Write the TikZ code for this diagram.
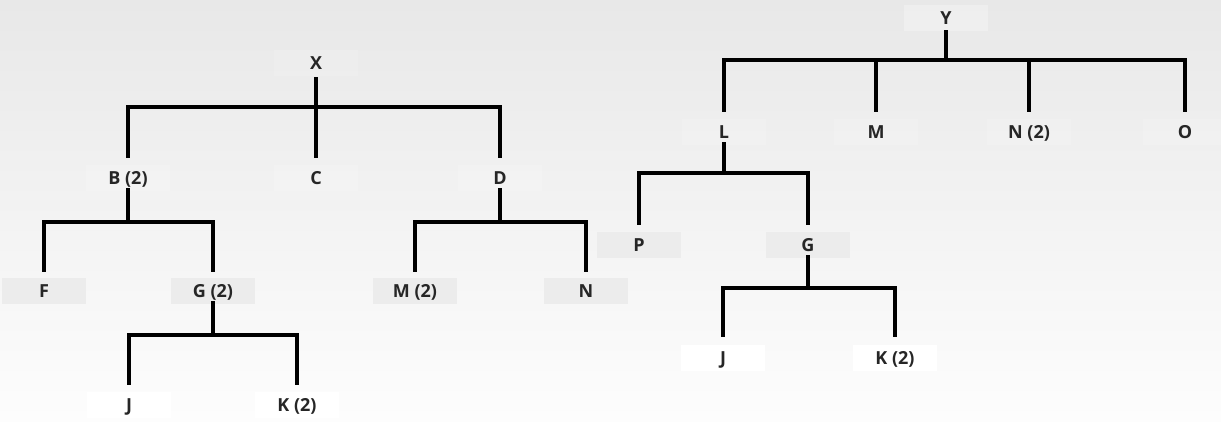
\documentclass[tikz,border=0pt]{standalone}
\usepackage{fontspec}
\setmainfont{Open Sans}
\definecolor{boxgray}{HTML}{ECECEC}
\definecolor{bgtop}{HTML}{E8E8E8}
\definecolor{bgmid}{HTML}{F3F3F3}
\definecolor{bgbot}{HTML}{FDFDFD}
\tikzset{
  lbl/.style={fill=boxgray, minimum width=84pt, minimum height=26pt, inner sep=0pt,
              text height=12.5pt, text depth=0pt,
              font=\fontsize{18}{21}\selectfont\bfseries, text=black!85},
  lblf/.style={lbl, fill=white, fill opacity=0.15, text opacity=1},
  lblw/.style={lbl, fill=white},
  edge/.style={line width=3.6pt, black, line join=miter}
}
\begin{document}
\begin{tikzpicture}[x=1pt,y=-1pt]
\useasboundingbox (0,0) rectangle (1221,421);
\shade[top color=bgtop, middle color=bgmid, bottom color=bgbot] (0,0) rectangle (1221,421);

% ---------- left tree ----------
\node[lblf] (X)  at (316,63) {X};
\node[lblf] (B)  at (128,178) {B (2)};
\node[lblf] (C)  at (316,178) {C};
\node[lblf] (D)  at (500,178) {D};
\node[lbl] (F)  at (44,291) {F};
\node[lbl] (G1) at (213,291) {G (2)};
\node[lbl] (M1) at (415,291) {M (2)};
\node[lbl] (N1) at (586,291) {N};
\node[lblw] (J1) at (129,405) {J};
\node[lblw] (K1) at (297,405) {K (2)};

% ---------- right tree ----------
\node[lbl, fill=white, fill opacity=0.3, text opacity=1] (Y)  at (946,18) {Y};
\node[lblf] (L)  at (724,132) {L};
\node[lblf] (M2) at (876,132) {M};
\node[lblf] (N2) at (1029,132) {N (2)};
\node[lblf] (O)  at (1185,132) {O};
\node[lbl] (P)  at (639,245) {P};
\node[lbl] (G2) at (808,245) {G};
\node[lblw] (J2) at (723,358) {J};
\node[lblw] (K2) at (895,358) {K (2)};

% ---------- connectors, left ----------
\draw[edge] ([yshift=-14pt]X.center) -- ([yshift=20pt]C.center);
\draw[edge] ([yshift=-14pt]X.center) -- ++(0,30) -| ([yshift=20pt]B.center);
\draw[edge] ([yshift=-14pt]X.center) -- ++(0,30) -| ([yshift=20pt]D.center);

\draw[edge] ([yshift=-10pt]B.center) -- ++(0,34) -| ([yshift=19pt]F.center);
\draw[edge] ([yshift=-10pt]B.center) -- ++(0,34) -| ([yshift=19pt]G1.center);

\draw[edge] ([yshift=-10pt]D.center) -- ++(0,34) -| ([yshift=19pt]M1.center);
\draw[edge] ([yshift=-10pt]D.center) -- ++(0,34) -| ([yshift=19pt]N1.center);

\draw[edge] ([yshift=-10pt]G1.center) -- ++(0,34) -| ([yshift=20pt]J1.center);
\draw[edge] ([yshift=-10pt]G1.center) -- ++(0,34) -| ([yshift=20pt]K1.center);

% ---------- connectors, right ----------
\draw[edge] ([yshift=-12pt]Y.center) -- ++(0,30) -| ([yshift=20pt]L.center);
\draw[edge] ([yshift=-12pt]Y.center) -- ++(0,30) -| ([yshift=20pt]M2.center);
\draw[edge] ([yshift=-12pt]Y.center) -- ++(0,30) -| ([yshift=20pt]N2.center);
\draw[edge] ([yshift=-12pt]Y.center) -- ++(0,30) -| ([yshift=20pt]O.center);

\draw[edge] ([yshift=-10pt]L.center) -- ++(0,31) -| ([yshift=20pt]P.center);
\draw[edge] ([yshift=-10pt]L.center) -- ++(0,31) -| ([yshift=20pt]G2.center);

\draw[edge] ([yshift=-10pt]G2.center) -- ++(0,33) -| ([yshift=21pt]J2.center);
\draw[edge] ([yshift=-10pt]G2.center) -- ++(0,33) -| ([yshift=21pt]K2.center);
\end{tikzpicture}
\end{document}
